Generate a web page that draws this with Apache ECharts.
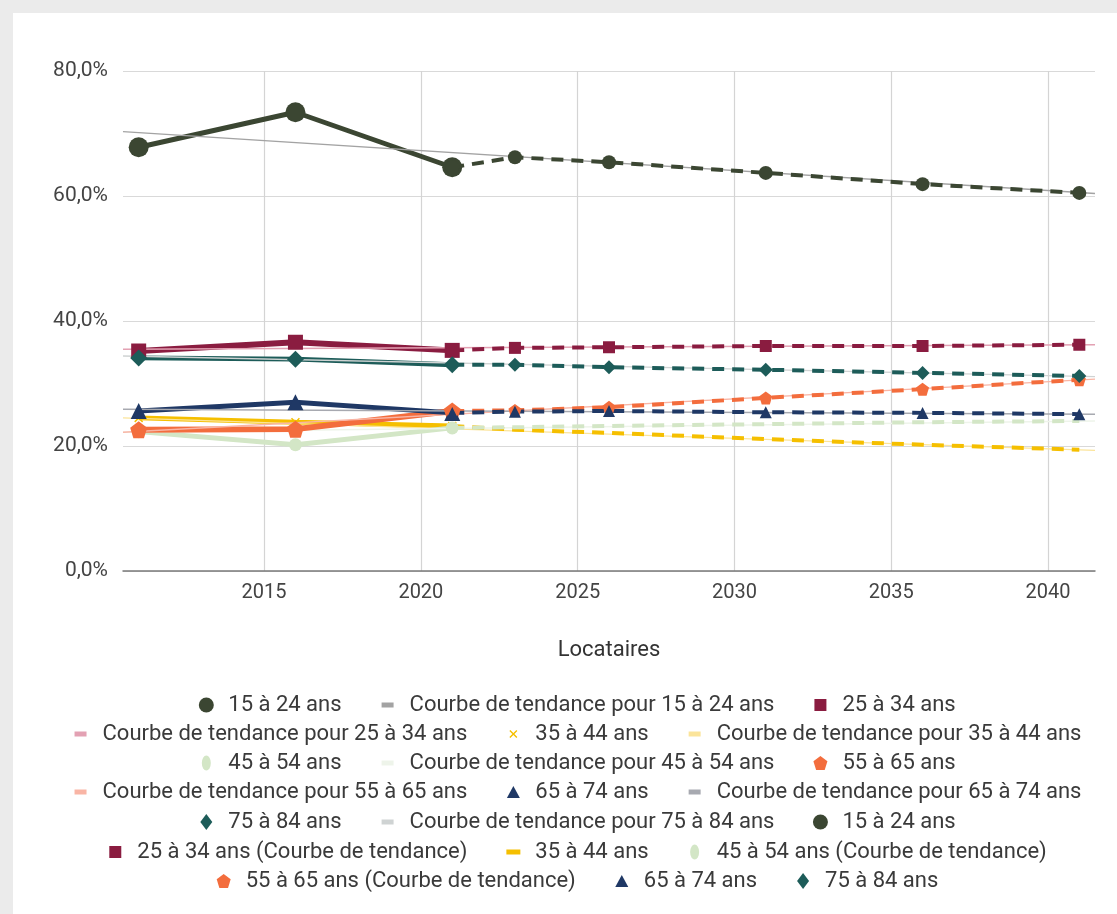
<!DOCTYPE html>
<html lang="fr">
<head>
<meta charset="utf-8">
<title>Locataires</title>
<script src="https://cdn.jsdelivr.net/npm/echarts@6/dist/echarts.min.js"></script>
<style>
  html, body { margin: 0; padding: 0; background: #ebebeb; overflow: hidden; width: 1117px; height: 914px; }
  #chart { position: absolute; left: 13px; top: 13px; width: 1128px; height: 901px; background: #ffffff; }
</style>
</head>
<body>
<div id="chart"></div>
<script>
// Observed years and projected years
const years = [2011, 2016, 2021];
const projYears = [2021, 2023, 2026, 2031, 2036, 2041];
// Horizontal extent of the chart (years) – trend lines span it entirely
const xExtent = [2010.5, 2041.5];
const xTicks = [2015, 2020, 2025, 2030, 2035, 2040];

// Share of renters (%) by age group, observed
const obs15 = [67.8, 73.4, 64.6];
const obs25 = [35.2, 36.6, 35.3];
const obs35 = [24.5, 23.8, 23.2];
const obs45 = [22.3, 20.2, 22.9];
const obs55 = [22.6, 22.7, 25.6];
const obs65 = [25.6, 27.0, 25.3];
const obs75 = [34.1, 33.9, 33.0];

// Projected values (%)
const proj15 = [64.6, 66.2, 65.4, 63.7, 61.9, 60.5];
const proj25 = [35.3, 35.7, 35.8, 36.0, 36.0, 36.2];
const proj35 = [23.2, 22.6, 22.1, 21.1, 20.2, 19.4];
const proj45 = [22.9, 23.0, 23.2, 23.5, 23.8, 24.0];
const proj55 = [25.6, 25.7, 26.2, 27.7, 29.1, 30.6];
const proj65 = [25.3, 25.5, 25.6, 25.4, 25.3, 25.1];
const proj75 = [33.0, 33.0, 32.6, 32.2, 31.7, 31.2];

// Linear trend lines: value at left and right edge of the chart (%)
const trend15 = [70.3, 60.4];
const trend25 = [35.5, 36.2];
const trend35 = [24.5, 19.3];
const trend45 = [22.2, 24.0];
const trend55 = [22.2, 30.7];
const trend65 = [25.9, 25.1];
const trend75 = [34.4, 31.1];

const yTicks = [0, 20, 40, 60, 80];

const ZW = '\u200b'; // keeps repeated legend names distinct

const colors = {
  c15: '#3b4632', t15: '#a3a3a3',
  c25: '#8a1c40', t25: '#e3a1b3',
  c35: '#f5bf00', t35: '#fbe49a',
  c45: '#d3e6c6', t45: '#eef4ea',
  c55: '#f36d3d', t55: '#f9b5a5',
  c65: '#1f3865', t65: '#a7a9b0',
  c75: '#1d5c59', t75: '#cfd3d3'
};

// Marker shapes
const SYM = {
  pentagon: 'path://M50,0 L100,38 L81,100 L19,100 L0,38 Z',
  cross: 'path://M0,12 L12,0 L50,38 L88,0 L100,12 L62,50 L100,88 L88,100 L50,62 L12,100 L0,88 L38,50 Z'
};
// Legend icons drawn inside a fixed 16x16 frame
const ICON = {
  circle: 'path://M0,0 M16,16 M0.5,8 A7.5,7.5 0 1 1 15.5,8 A7.5,7.5 0 1 1 0.5,8 Z',
  oval: 'path://M0,0 M16,16 M3.5,8 A4.5,7.5 0 1 1 12.5,8 A4.5,7.5 0 1 1 3.5,8 Z',
  square: 'path://M0,0 M16,16 M2,2 L14,2 L14,14 L2,14 Z',
  bar: 'path://M0,0 M16,16 M2,5.5 L14,5.5 L14,10.5 L2,10.5 Z',
  thickBar: 'path://M0,0 M16,16 M1,5.5 L15,5.5 L15,10.5 L1,10.5 Z',
  cross: 'path://M0,0 M16,16 M4,5 L5,4 L8,7 L11,4 L12,5 L9,8 L12,11 L11,12 L8,9 L5,12 L4,11 L7,8 Z',
  pentagon: 'path://M0,0 M16,16 M8,1 L15,6.3 L12.3,15 L3.7,15 L1,6.3 Z',
  triangle: 'path://M0,0 M16,16 M8,2 L14.5,14 L1.5,14 Z',
  diamond: 'path://M0,0 M16,16 M8,0 L14,8 L8,16 L2,8 Z'
};

function pairs(xs, ys) { return xs.map((x, i) => [x, ys[i]]); }

function observed(name, xs, ys, color, symbol, size, width) {
  return {
    name, type: 'line', data: pairs(xs, ys), color,
    symbol, symbolSize: size, showAllSymbol: true,
    lineStyle: { width: width || 5, color },
    itemStyle: { color, borderWidth: 0 }
  };
}
function trend(name, ys, color) {
  return {
    name, type: 'line', data: pairs(xExtent, ys), color,
    symbol: 'none', lineStyle: { width: 1.5, color }
  };
}
function projected(name, ys, color, symbol, size) {
  return {
    name, type: 'line', data: pairs(projYears, ys), color,
    symbol, symbolSize: size, showAllSymbol: true,
    lineStyle: { width: 4, color, type: [12, 8] },
    itemStyle: { color, borderWidth: 0 }
  };
}

const series = [
  observed('15 à 24 ans', years, obs15, colors.c15, 'circle', 20, 5),
  trend('Courbe de tendance pour 15 à 24 ans', trend15, colors.t15),
  observed('25 à 34 ans', years, obs25, colors.c25, 'rect', 15, 6),
  trend('Courbe de tendance pour 25 à 34 ans', trend25, colors.t25),
  observed('35 à 44 ans', years, obs35, colors.c35, SYM.cross, 9, 5),
  trend('Courbe de tendance pour 35 à 44 ans', trend35, colors.t35),
  observed('45 à 54 ans', years, obs45, colors.c45, 'circle', 13, 5),
  trend('Courbe de tendance pour 45 à 54 ans', trend45, colors.t45),
  observed('55 à 65 ans', years, obs55, colors.c55, SYM.pentagon, 17, 6),
  trend('Courbe de tendance pour 55 à 65 ans', trend55, colors.t55),
  observed('65 à 74 ans', years, obs65, colors.c65, 'triangle', 16, 5),
  trend('Courbe de tendance pour 65 à 74 ans', trend65, colors.t65),
  observed('75 à 84 ans', years, obs75, colors.c75, 'diamond', 17, 5),
  trend('Courbe de tendance pour 75 à 84 ans', trend75, colors.t75),
  projected('15 à 24 ans' + ZW, proj15, colors.c15, 'circle', 14),
  projected('25 à 34 ans (Courbe de tendance)', proj25, colors.c25, 'rect', 12),
  projected('35 à 44 ans' + ZW, proj35, colors.c35, 'none', 0),
  projected('45 à 54 ans (Courbe de tendance)', proj45, colors.c45, 'none', 0),
  projected('55 à 65 ans (Courbe de tendance)', proj55, colors.c55, SYM.pentagon, 13),
  projected('65 à 74 ans' + ZW, proj65, colors.c65, 'triangle', 12),
  projected('75 à 84 ans' + ZW, proj75, colors.c75, 'diamond', 14)
];

// Legend rows: [series name, icon, color]
const legendRows = [
  [['15 à 24 ans', ICON.circle, colors.c15], ['Courbe de tendance pour 15 à 24 ans', ICON.bar, colors.t15], ['25 à 34 ans', ICON.square, colors.c25]],
  [['Courbe de tendance pour 25 à 34 ans', ICON.bar, colors.t25], ['35 à 44 ans', ICON.cross, colors.c35], ['Courbe de tendance pour 35 à 44 ans', ICON.bar, colors.t35]],
  [['45 à 54 ans', ICON.oval, colors.c45], ['Courbe de tendance pour 45 à 54 ans', ICON.bar, colors.t45], ['55 à 65 ans', ICON.pentagon, colors.c55]],
  [['Courbe de tendance pour 55 à 65 ans', ICON.bar, colors.t55], ['65 à 74 ans', ICON.triangle, colors.c65], ['Courbe de tendance pour 65 à 74 ans', ICON.bar, colors.t65]],
  [['75 à 84 ans', ICON.diamond, colors.c75], ['Courbe de tendance pour 75 à 84 ans', ICON.bar, colors.t75], ['15 à 24 ans' + ZW, ICON.circle, colors.c15]],
  [['25 à 34 ans (Courbe de tendance)', ICON.square, colors.c25], ['35 à 44 ans' + ZW, ICON.thickBar, colors.c35], ['45 à 54 ans (Courbe de tendance)', ICON.oval, colors.c45]],
  [['55 à 65 ans (Courbe de tendance)', ICON.pentagon, colors.c55], ['65 à 74 ans' + ZW, ICON.triangle, colors.c65], ['75 à 84 ans' + ZW, ICON.diamond, colors.c75]]
];
const legendRowTop = [679, 708, 737, 766, 796, 826, 855];

const legends = legendRows.map((row, r) => ({
  left: 'center', top: legendRowTop[r], orient: 'horizontal',
  padding: 0, itemGap: 38, itemWidth: 16, itemHeight: 16,
  selectedMode: false,
  itemStyle: { borderWidth: 0 },
  textStyle: { fontFamily: 'Roboto', fontSize: 22, color: '#3a3a3a', lineHeight: 26, padding: [0, 0, 0, 9] },
  data: row.map(([name, icon, color]) => ({ name, icon, itemStyle: { color, borderWidth: 0 } }))
}));

const chart = echarts.init(document.getElementById('chart'), null, { renderer: 'canvas' });
chart.setOption({
  animation: false,
  backgroundColor: '#ffffff',
  textStyle: { fontFamily: 'Roboto' },
  grid: { left: 110, right: 46, top: 58, bottom: 343 },
  legend: legends,
  xAxis: {
    type: 'value', min: xExtent[0], max: xExtent[1],
    name: 'Locataires', nameLocation: 'middle', nameGap: 68,
    nameTextStyle: { fontFamily: 'Roboto', fontSize: 22, color: '#333' },
    axisLine: { show: true, lineStyle: { color: '#7a7a7a', width: 1.5 } },
    axisTick: { show: false, customValues: xTicks },
    axisLabel: { customValues: xTicks, fontSize: 20, color: '#444', margin: 12, formatter: v => String(v) },
    splitLine: { show: true, lineStyle: { color: '#d4d4d4', width: 1.2 } }
  },
  yAxis: {
    type: 'value', min: yTicks[0], max: yTicks[yTicks.length - 1], interval: 20,
    axisLine: { show: false }, axisTick: { show: false },
    axisLabel: { fontSize: 21, color: '#444', margin: 15, formatter: v => v.toFixed(1).replace('.', ',') + '%' },
    splitLine: { show: true, lineStyle: { color: '#d9d9d9', width: 1.2 } }
  },
  series
});
</script>
</body>
</html>
